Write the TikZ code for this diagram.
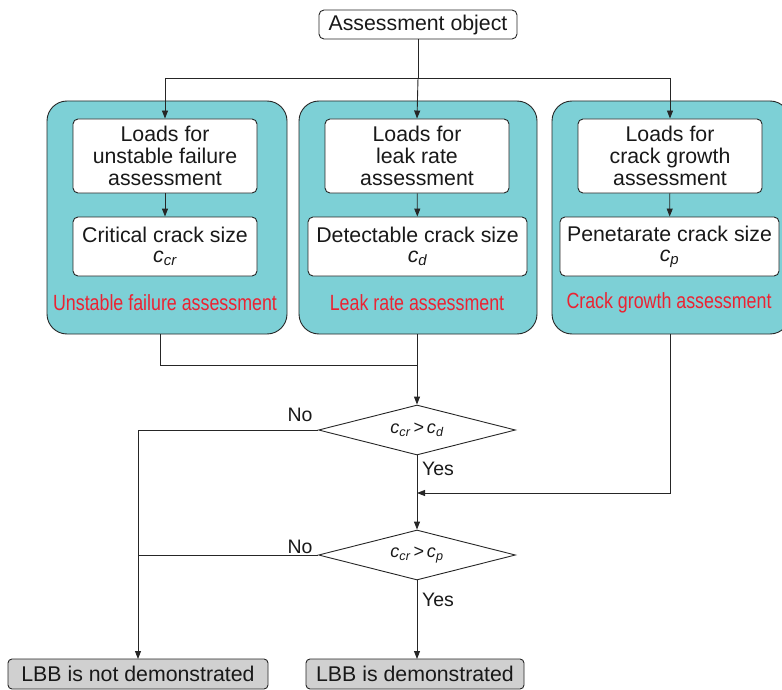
\documentclass[tikz,border=0pt]{standalone}
\usepackage{fontspec}
\setmainfont{Liberation Sans}
\newfontfamily\narrowfont[FakeStretch=0.81]{Liberation Sans}
\usetikzlibrary{arrows.meta,shapes.geometric}
\definecolor{tealbg}{RGB}{125,208,214}
\definecolor{redlab}{RGB}{235,35,50}
\definecolor{grayfill}{RGB}{208,208,208}
\begin{document}
\begin{tikzpicture}[x=1pt,y=-1pt,
  every node/.style={font=\fontsize{21.3}{22}\selectfont, text=black!90},
  line/.style={draw=black!85, line width=0.9pt},
  arr/.style={line, -{Triangle[length=8pt,width=6pt]}},
  whitebox/.style={draw=black!85, line width=0.9pt, fill=white, rounded corners=5pt, align=center},
  groupbox/.style={draw=black!85, line width=0.9pt, fill=tealbg, rounded corners=20pt},
  endbox/.style={draw=black!85, line width=0.9pt, fill=grayfill, rounded corners=4pt},
  redtext/.style={text=redlab, font=\narrowfont\fontsize{22}{24}\selectfont},
  dia/.style={draw=black!85, line width=0.9pt, fill=white},
  ctext/.style={font=\fontsize{18}{19}\selectfont\itshape},
  lab/.style={font=\fontsize{19.5}{21}\selectfont}]
\useasboundingbox (0,0) rectangle (782,690);

% top
\draw[whitebox] (319,10) rectangle (517,39);
\node (top) at (418,25) {Assessment object};
\coordinate (topb) at (418,39);

% group boxes
\draw[groupbox] (47,101) rectangle (287,334);
\draw[groupbox] (299,101) rectangle (537,334);
\draw[groupbox] (552,101) rectangle (790,334);

% inner boxes
\node[whitebox, minimum width=184pt, minimum height=74pt, inner sep=0pt] (l1) at (165,156) {Loads for\\unstable failure\\assessment};
\node[whitebox, minimum width=184pt, minimum height=74pt, inner sep=0pt] (l2) at (417,156) {Loads for\\leak rate\\assessment};
\node[whitebox, minimum width=184pt, minimum height=74pt, inner sep=0pt] (l3) at (670,156) {Loads for\\crack growth\\assessment};

\node[whitebox, minimum width=184pt, minimum height=59pt, inner sep=0pt] (c1) at (165,246.5) {Critical crack size\\[-2pt]{\itshape c\textsubscript{cr}}};
\node[whitebox, minimum width=219pt, minimum height=59pt, inner sep=0pt] (c2) at (417.5,246.5) {Detectable crack size\\[-2pt]{\itshape c\textsubscript{d}}};
\node[whitebox, minimum width=219pt, minimum height=59pt, inner sep=0pt] (c3) at (669.5,246.5) {Penetarate crack size\\[-2pt]{\itshape c\textsubscript{p}}};

\node[redtext] (r1) at (165,303) {Unstable failure assessment};
\node[redtext] (r2) at (417,303) {Leak rate assessment};
\node[redtext] (r3) at (669,303) {Crack growth assessment};

\coordinate (b1) at (160,334);
\coordinate (b2) at (417,334);
\coordinate (b3) at (670,334);

% top distribution
\coordinate (hl) at (165,78);
\coordinate (hr) at (670,78);
\draw[line] (topb) -- (418,78);
\draw[line] (hl) -- (hr);
\draw[arr] (hl) -- (l1.north);
\draw[arr] (418,78) -- (l2.north);
\draw[arr] (hr) -- (l3.north);
\draw[arr] (l1) -- (c1);
\draw[arr] (l2) -- (c2);
\draw[arr] (l3) -- (c3);

% diamonds
\node[dia, diamond, aspect=3.94, minimum width=197pt, minimum height=50pt, inner sep=0pt] (d1) at (417,430) {};
\node[ctext] at (417,430) {c\textsubscript{cr}\,>\,c\textsubscript{d}};
\node[dia, diamond, aspect=3.94, minimum width=197pt, minimum height=50pt, inner sep=0pt] (d2) at (417,555) {};
\node[ctext] at (417,555) {c\textsubscript{cr}\,>\,c\textsubscript{p}};

% end boxes
\draw[endbox] (8,659) rectangle (268,689);
\node (e1) at (138,674) {LBB is not demonstrated};
\draw[endbox] (306,659) rectangle (524,689);
\node (e2) at (415,674) {LBB is demonstrated};
\coordinate (e1t) at (138,659);
\coordinate (e2t) at (417,659);

% connectors
\coordinate (j1) at (417,365);
\draw[line] (b1) -- (160,365) -- (j1);
\draw[arr] (b2) -- (d1.north);
\draw[arr] (d1.south) -- (d2.north);
\coordinate (j2) at (417,493);
\draw[arr] (b3) -- (670,493) -- (j2);
\coordinate (nl) at (138,430);
\draw[line] (d1.west) -- (nl);
\draw[arr] (nl) -- (e1t);
\draw[line] (d2.west) -- (138,555);
\draw[arr] (d2.south) -- (e2t);

\node[lab] at (300,415) {No};
\node[lab] at (300,547) {No};
\node[lab] at (438,469) {Yes};
\node[lab] at (438,600) {Yes};
\end{tikzpicture}
\end{document}
